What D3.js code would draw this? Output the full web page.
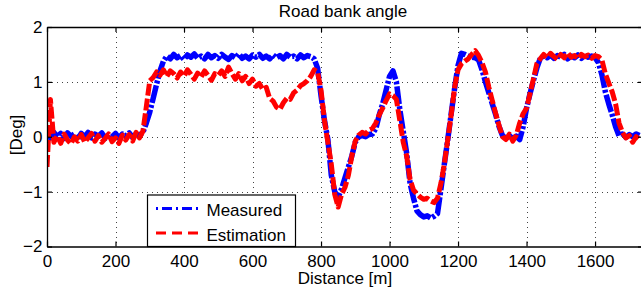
<!DOCTYPE html>
<html>
<head>
<meta charset="utf-8">
<script src="https://cdn.jsdelivr.net/npm/d3@7"></script>
<style>
body{margin:0;background:#fff;}
svg{display:block;}
text{font-family:"Liberation Sans",Arial,sans-serif;fill:#000;}
</style>
</head>
<body>
<div id="chart"></div>
<script>
// distance grid, one sample every 10 m
var distStep = 10;
var xTicks = [0,200,400,600,800,1000,1200,1400,1600];
var yTicks = [-2,-1,0,1,2];

// measured bank angle [deg]
var measured = [
	0.05,-0.02,0.08,0.0,0.06,-0.03,0.07,0.01,0.05,-0.04,   //0
	0.06,0.0,0.08,-0.02,0.05,0.01,0.07,-0.03,0.04,0.0,     //100
	0.06,-0.02,0.05,0.02,0.07,-0.01,0.05,0.03,0.08,0.25,   //200
	0.45,0.7,0.96,1.2,1.38,1.47,1.42,1.5,1.44,1.48,        //300
	1.41,1.49,1.45,1.51,1.43,1.47,1.42,1.5,1.44,1.48,      //400
	1.43,1.5,1.45,1.41,1.48,1.44,1.51,1.43,1.47,1.42,      //500
	1.49,1.45,1.5,1.43,1.47,1.42,1.49,1.44,1.48,1.42,      //600
	1.5,1.45,1.47,1.42,1.49,1.44,1.48,1.46,1.42,1.25,      //700
	0.75,0.3,-0.05,-0.7,-1.0,-1.1,-0.95,-0.75,-0.55,-0.35, //800
	-0.1,0.0,0.02,0.0,0.04,0.05,0.15,0.4,0.6,0.85,         //900
	1.1,1.2,1.0,0.5,0.1,-0.3,-0.85,-1.12,-1.35,-1.42,      //1000
	-1.46,-1.44,-1.48,-1.45,-1.4,-0.96,-0.5,-0.05,0.42,0.88, //1100
	1.3,1.52,1.5,1.47,1.45,1.44,1.4,1.22,1.0,0.8,          //1200
	0.6,0.4,0.18,0.02,-0.03,0.02,-0.04,0.01,-0.05,0.18,    //1300
	0.52,0.78,1.02,1.25,1.43,1.47,1.44,1.49,1.43,1.48,     //1400
	1.45,1.5,1.42,1.47,1.44,1.49,1.43,1.48,1.45,1.47,      //1500
	1.44,1.35,1.13,0.82,0.6,0.4,0.18,0.02,0.05,-0.01,      //1600
	0.04,0.0,0.05,0.02                                     //1700
];

// estimated bank angle [deg]
var estimation = [
	-0.55,0.68,-0.1,0.02,-0.12,0.05,-0.06,-0.13,0.0,-0.08, //0
	0.04,-0.1,-0.02,0.06,-0.08,0.02,-0.1,-0.03,0.05,-0.09, //100
	-0.02,-0.12,0.03,-0.06,0.04,-0.08,0.08,-0.02,0.1,0.55, //200
	1.02,1.08,1.18,1.12,1.22,1.1,1.2,1.15,1.07,1.18,       //300
	1.1,1.22,1.14,1.05,1.16,1.09,1.2,1.12,1.03,1.15,       //400
	1.12,1.2,1.1,1.27,1.15,1.05,1.15,1.02,1.1,0.97,        //500
	1.05,0.92,0.97,0.86,0.9,0.7,0.65,0.54,0.5,0.62,        //600
	0.7,0.68,0.8,0.85,0.93,0.97,1.02,1.1,1.22,1.18,        //700
	0.85,0.3,-0.1,-0.5,-1.05,-1.28,-1.05,-0.92,-0.7,-0.35, //800
	-0.08,0.03,0.08,0.05,0.12,0.15,0.25,0.4,0.52,0.66,     //900
	0.78,0.75,0.68,0.3,-0.1,-0.35,-0.78,-0.97,-1.04,-1.1,  //1000
	-1.14,-1.12,-1.17,-1.2,-1.12,-0.85,-0.5,-0.05,0.4,0.9, //1100
	1.22,1.33,1.38,1.42,1.5,1.57,1.48,1.35,1.18,0.9,       //1200
	0.66,0.42,0.2,0.0,-0.05,0.05,-0.08,0.03,0.25,0.42,     //1300
	0.52,0.78,1.05,1.33,1.42,1.5,1.44,1.52,1.46,1.41,      //1400
	1.5,1.44,1.53,1.45,1.48,1.42,1.5,1.46,1.49,1.43,       //1500
	1.48,1.46,1.4,1.15,0.98,0.82,0.6,0.25,0.08,-0.02,      //1600
	0.02,-0.1,0.0,-0.05                                    //1700
];

var W = 641, H = 297;
var mLeft = 47, mRight = 643, mTop = 27, mBottom = 246.5;

var svg = d3.select("#chart").append("svg")
	.attr("width", W)
	.attr("height", H);

var x = d3.scaleLinear().domain([0,1740]).range([mLeft,mRight]);
var y = d3.scaleLinear().domain([-2,2]).range([mBottom,mTop]);

//グリッド
var grid = svg.append("g").attr("stroke","#444").attr("stroke-width",1).attr("stroke-dasharray","1,4");
grid.selectAll(".gx").data(xTicks.filter(function(d){return d>0;})).enter()
	.append("line")
	.attr("x1",function(d){return Math.round(x(d))+0.5;})
	.attr("x2",function(d){return Math.round(x(d))+0.5;})
	.attr("y1",mTop).attr("y2",mBottom);
grid.selectAll(".gy").data(yTicks.filter(function(d){return d>-2&&d<2;})).enter()
	.append("line")
	.attr("y1",function(d){return Math.round(y(d))+0.5;})
	.attr("y2",function(d){return Math.round(y(d))+0.5;})
	.attr("x1",mLeft).attr("x2",mRight);

svg.append("clipPath").attr("id","clip")
	.append("rect").attr("x",mLeft).attr("y",mTop).attr("width",mRight-mLeft).attr("height",mBottom-mTop);

var line = d3.line()
	.x(function(d,i){return x(i*distStep);})
	.y(function(d){return y(d);});

var plot = svg.append("g").attr("clip-path","url(#clip)");
plot.append("path")
	.datum(measured)
	.attr("d",line)
	.attr("fill","none")
	.attr("stroke","#0000ff")
	.attr("stroke-width",5.5)
	.attr("stroke-linejoin","round")
	.attr("stroke-dasharray","18,2,3,2");
plot.append("path")
	.datum(estimation)
	.attr("d",line)
	.attr("fill","none")
	.attr("stroke","#ff0000")
	.attr("stroke-width",5)
	.attr("stroke-linejoin","round")
	.attr("stroke-dasharray","12,3");

//軸
var fs = "17px";
var fmt = d3.format("d");
svg.append("g").attr("transform","translate(0,"+mBottom+")")
	.call(d3.axisBottom(x).tickValues(xTicks).tickFormat(fmt).tickSizeInner(-5).tickSizeOuter(0).tickPadding(8.5));
svg.append("g").attr("transform","translate(0,"+mTop+")")
	.call(d3.axisTop(x).tickValues(xTicks).tickSizeInner(-5).tickSizeOuter(0).tickFormat(""));
svg.append("g").attr("transform","translate("+mLeft+",0)")
	.call(d3.axisLeft(y).tickValues(yTicks).tickFormat(fmt).tickSizeInner(-5).tickSizeOuter(0).tickPadding(4.5));
svg.append("g").attr("transform","translate("+mRight+",0)")
	.call(d3.axisRight(y).tickValues(yTicks).tickSizeInner(-5).tickSizeOuter(0).tickFormat(""));

svg.selectAll(".domain").attr("stroke","#000").attr("stroke-width",1.3);
svg.selectAll(".tick line").attr("stroke","#000").attr("stroke-width",1.2);
svg.selectAll(".tick text").attr("font-size",fs).attr("font-family","Liberation Sans, Arial, sans-serif").attr("fill","#000");

//ラベル
svg.append("text").attr("x",343).attr("y",17).attr("text-anchor","middle").attr("font-size",fs).text("Road bank angle");
svg.append("text").attr("x",345).attr("y",284).attr("text-anchor","middle").attr("font-size",fs).text("Distance [m]");
svg.append("text").attr("transform","translate(22,135) rotate(-90)").attr("text-anchor","middle").attr("font-size",fs).text("[Deg]");

//凡例
var legend = svg.append("g");
legend.append("rect").attr("x",147.5).attr("y",195).attr("width",148).attr("height",mBottom-195)
	.attr("fill","#fff").attr("stroke","#000").attr("stroke-width",1.2);
var items = [
	{name:"Measured", color:"#0000ff", dash:"2,4,10,4"},
	{name:"Estimation", color:"#ff0000", dash:"10,6"}
];
items.forEach(function(it,i){
	var yy = 208.5 + i*24.5;
	legend.append("line").attr("x1",156).attr("x2",201).attr("y1",yy).attr("y2",yy)
		.attr("stroke",it.color).attr("stroke-width",3).attr("stroke-dasharray",it.dash);
	legend.append("text").attr("x",206.5).attr("y",yy+7.5).attr("font-size",fs).text(it.name);
});
</script>
</body>
</html>
